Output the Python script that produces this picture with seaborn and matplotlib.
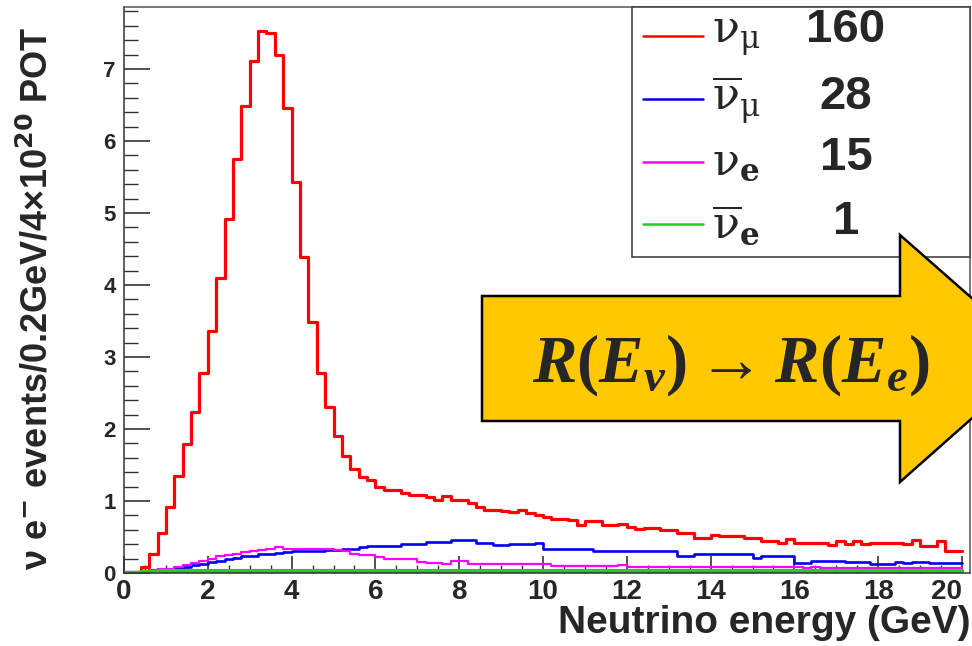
import numpy as np
import pandas as pd
import matplotlib
matplotlib.use("Agg")
import matplotlib.pyplot as plt
from matplotlib.patches import Polygon, Rectangle
from matplotlib.lines import Line2D
from matplotlib.ticker import MultipleLocator
import seaborn as sns

# ---------------- data (0.2 GeV bins from 0 to 20 GeV) ----------------
e_min, e_max, n_bins = 0.0, 20.0, 100

numu = [0.01, 0.02, 0.09, 0.26, 0.55, 0.91, 1.35, 1.79, 2.24, 2.78,
        3.36, 4.10, 4.91, 5.75, 6.48, 7.11, 7.52, 7.50, 7.20, 6.46,
        5.43, 4.39, 3.49, 2.78, 2.30, 1.90, 1.62, 1.45, 1.33, 1.29,
        1.20, 1.15, 1.15, 1.11, 1.08, 1.08, 1.05, 1.02, 1.07, 1.01,
        1.02, 0.97, 0.92, 0.88, 0.87, 0.86, 0.85, 0.87, 0.83, 0.81,
        0.78, 0.75, 0.75, 0.74, 0.67, 0.72, 0.72, 0.67, 0.67, 0.68,
        0.64, 0.61, 0.63, 0.63, 0.60, 0.60, 0.56, 0.56, 0.49, 0.49,
        0.53, 0.51, 0.51, 0.51, 0.48, 0.48, 0.44, 0.44, 0.42, 0.47,
        0.42, 0.42, 0.42, 0.42, 0.39, 0.44, 0.40, 0.44, 0.40, 0.41,
        0.41, 0.41, 0.41, 0.40, 0.46, 0.38, 0.38, 0.44, 0.30, 0.30]

numubar = [0.01, 0.02, 0.03, 0.04, 0.05, 0.06, 0.07, 0.09, 0.11, 0.13,
           0.15, 0.17, 0.19, 0.21, 0.23, 0.24, 0.26, 0.27, 0.28, 0.29,
           0.30, 0.30, 0.31, 0.31, 0.32, 0.32, 0.33, 0.34, 0.36, 0.37,
           0.37, 0.37, 0.37, 0.40, 0.40, 0.40, 0.43, 0.43, 0.43, 0.46,
           0.46, 0.46, 0.41, 0.41, 0.39, 0.39, 0.40, 0.40, 0.40, 0.42,
           0.34, 0.34, 0.34, 0.34, 0.34, 0.34, 0.30, 0.30, 0.30, 0.30,
           0.30, 0.30, 0.30, 0.30, 0.30, 0.30, 0.23, 0.23, 0.26, 0.26,
           0.26, 0.26, 0.26, 0.26, 0.26, 0.21, 0.23, 0.23, 0.23, 0.23,
           0.14, 0.14, 0.17, 0.17, 0.17, 0.17, 0.155, 0.155, 0.155, 0.12,
           0.12, 0.12, 0.155, 0.14, 0.155, 0.155, 0.14, 0.14, 0.14, 0.14]

nue = [0.01, 0.02, 0.03, 0.04, 0.05, 0.06, 0.08, 0.11, 0.14, 0.17,
       0.20, 0.23, 0.25, 0.27, 0.29, 0.30, 0.32, 0.33, 0.36, 0.34,
       0.34, 0.33, 0.33, 0.33, 0.33, 0.32, 0.30, 0.26, 0.25, 0.25,
       0.22, 0.20, 0.20, 0.19, 0.19, 0.15, 0.14, 0.14, 0.12, 0.16,
       0.16, 0.12, 0.12, 0.12, 0.12, 0.12, 0.12, 0.12, 0.12, 0.12,
       0.13, 0.10, 0.10, 0.10, 0.10, 0.10, 0.10, 0.10, 0.10, 0.11,
       0.09, 0.09, 0.09, 0.09, 0.09, 0.09, 0.09, 0.09, 0.08, 0.08,
       0.09, 0.08, 0.08, 0.08, 0.08, 0.08, 0.08, 0.08, 0.08, 0.08,
       0.08, 0.07, 0.08, 0.07, 0.07, 0.07, 0.07, 0.07, 0.07, 0.07,
       0.07, 0.07, 0.07, 0.07, 0.07, 0.07, 0.07, 0.07, 0.07, 0.07]

nuebar = [0.00, 0.005, 0.01, 0.02, 0.025, 0.03, 0.03, 0.03, 0.03, 0.03,
          0.03, 0.03, 0.03, 0.03, 0.03, 0.03, 0.03, 0.03, 0.03, 0.03,
          0.03, 0.03, 0.03, 0.03, 0.03, 0.03, 0.03, 0.03, 0.03, 0.03,
          0.03, 0.03, 0.03, 0.03, 0.03, 0.03, 0.025, 0.025, 0.025, 0.025,
          0.025, 0.025, 0.025, 0.025, 0.025, 0.025, 0.025, 0.025, 0.025, 0.025,
          0.025, 0.025, 0.025, 0.025, 0.025, 0.025, 0.025, 0.025, 0.025, 0.025,
          0.025, 0.025, 0.025, 0.025, 0.025, 0.025, 0.025, 0.025, 0.025, 0.025,
          0.025, 0.025, 0.025, 0.025, 0.025, 0.025, 0.025, 0.025, 0.025, 0.025,
          0.025, 0.025, 0.025, 0.025, 0.025, 0.025, 0.025, 0.025, 0.025, 0.025,
          0.025, 0.025, 0.025, 0.025, 0.025, 0.025, 0.025, 0.025, 0.025, 0.025]

series_names = ["numu", "numubar", "nue", "nuebar"]
series_labels = [r"$\mathrm{\nu}_{\mathrm{\mu}}$",
                 r"$\overline{\mathrm{\nu}}_{\mathrm{\mu}}$",
                 r"$\mathrm{\nu}_{\mathbf{e}}$",
                 r"$\overline{\mathrm{\nu}}_{\mathbf{e}}$"]
series_counts = ["160", "28", "15", "1"]
series_colors = ["#FF0000", "#0000EE", "#FF00FF", "#22CC22"]
series_widths = [2.3, 1.9, 1.6, 3.0]

x_ticks = [0, 2, 4, 6, 8, 10, 12, 14, 16, 18, 20]
y_ticks = [0, 1, 2, 3, 4, 5, 6, 7]

arrow_text = r"$R(E_{\nu})\rightarrow R(E_{e})$"
x_title = "Neutrino energy (GeV)"
y_title = r"ν e$^{\mathbf{-}}$ events/0.2GeV/4×10$^{\mathbf{20}}$ POT"

# ---------------- long-form table ----------------
bin_w = (e_max - e_min) / n_bins
centers = e_min + bin_w * (np.arange(n_bins) + 0.5)
df = pd.concat([
    pd.DataFrame({"E": centers, "count": vals, "flavour": name})
    for name, vals in zip(series_names, [numu, numubar, nue, nuebar])
], ignore_index=True)

# ---------------- style ----------------
sns.set_style("white")
plt.rcParams["font.family"] = ["Liberation Sans", "DejaVu Sans"]
plt.rcParams["mathtext.rm"] = "Liberation Serif:bold"
plt.rcParams["mathtext.it"] = "Liberation Serif:bold:italic"
plt.rcParams["mathtext.bf"] = "Liberation Serif:bold"

W, H = 972, 646
fig = plt.figure(figsize=(W / 100, H / 100), dpi=100)
fig.patch.set_facecolor("white")


def fx(px):
    return px / W


def fy(py):
    return 1 - py / H


ax_left, ax_right, ax_top, ax_bottom = 124, 970, 7, 573
ax = fig.add_axes([fx(ax_left), fy(ax_bottom), fx(ax_right - ax_left),
                   (ax_bottom - ax_top) / H])

for name, col, lw in zip(series_names, series_colors, series_widths):
    sub = df[df["flavour"] == name]
    sns.histplot(data=sub, x="E", weights="count", bins=n_bins,
                 binrange=(e_min, e_max), element="step", fill=False,
                 color=col, linewidth=lw, ax=ax)

ax.set_xlim(0, 20.19)
ax.set_ylim(0, 7.86)
ax.set_xlabel("")
ax.set_ylabel("")
ax.set_xticks(x_ticks)
ax.set_yticks(y_ticks)
ax.set_xticklabels([str(t) for t in x_ticks])
ax.set_yticklabels([str(t) for t in y_ticks])
ax.xaxis.set_minor_locator(MultipleLocator(0.5))
ax.yaxis.set_minor_locator(MultipleLocator(0.2))

xlabs = ax.get_xticklabels()
for lab in xlabs:
    lab.set_fontweight("bold")
    lab.set_fontsize(20)
# last label sits at the cropped right edge: keep it inside the canvas
xlabs[-1].set_horizontalalignment("right")
for lab in ax.get_yticklabels():
    lab.set_fontweight("bold")
    lab.set_fontsize(16)

ax.tick_params(axis="x", which="major", direction="in", length=12, width=1.2,
               color="#333333", pad=4, bottom=True, top=False)
ax.tick_params(axis="x", which="minor", direction="in", length=6, width=1.0,
               color="#333333", bottom=True, top=False)
ax.tick_params(axis="y", which="major", direction="in", length=19, width=1.2,
               color="#333333", pad=6, left=True, right=False)
ax.tick_params(axis="y", which="minor", direction="in", length=10, width=1.0,
               color="#333333", left=True, right=False)
for s in ax.spines.values():
    s.set_color("#555555")
    s.set_linewidth(1.1)
ax.spines["left"].set_color("#333333")
ax.spines["bottom"].set_color("#333333")

# axis titles
fig.text(fx(37), fy(298), y_title, rotation=90, ha="center", va="center",
         fontsize=26, fontweight="bold", math_fontfamily="dejavusans")
fig.text(fx(970), fy(633), x_title, ha="right", va="baseline",
         fontsize=28, fontweight="bold")

# legend box (ROOT style)
fig.add_artist(Rectangle((fx(632), fy(257)), fx(970 - 632), (257 - 7) / H,
                         transform=fig.transFigure, facecolor="white",
                         edgecolor="#444444", linewidth=1.2, zorder=5))
legend_rows = [36, 99, 162, 224]
count_rows = [30, 97, 158, 222]
for row, crow, lab, cnt, col in zip(legend_rows, count_rows, series_labels,
                                    series_counts, series_colors):
    fig.add_artist(Line2D([fx(643), fx(703)], [fy(row), fy(row)],
                          transform=fig.transFigure, color=col, lw=1.8,
                          zorder=6))
    fig.text(fx(712), fy(row + 2), lab, ha="left", va="center", fontsize=32,
             math_fontfamily="dejavuserif", zorder=6)
    fig.text(fx(846), fy(crow), cnt, ha="center", va="center", fontsize=34,
             fontweight="bold", zorder=6)

# big yellow arrow
arrow_pts = [(482, 296), (900, 296), (900, 235), (1040, 358), (900, 482),
             (900, 421), (482, 421)]
fig.add_artist(Polygon([(fx(x), fy(y)) for x, y in arrow_pts], closed=True,
                       transform=fig.transFigure, facecolor="#FFC800",
                       edgecolor="black", linewidth=1.8, zorder=8))
fig.text(fx(731), fy(382), arrow_text, ha="center", va="baseline",
         fontsize=48, math_fontfamily="custom", zorder=9)

fig.savefig("out.png", dpi=100)
